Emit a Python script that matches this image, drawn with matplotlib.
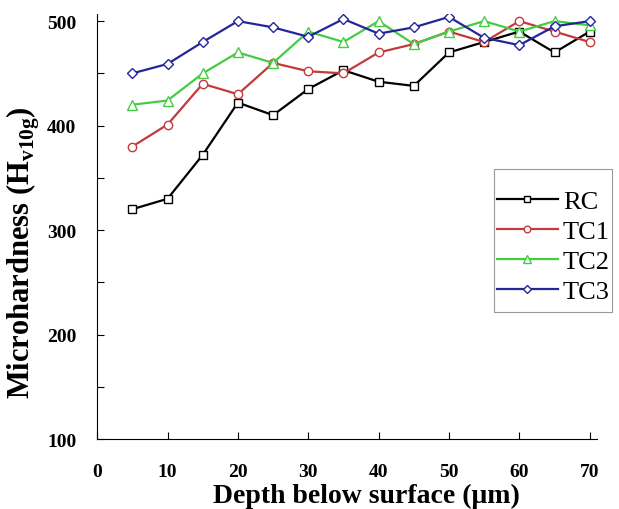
import matplotlib
matplotlib.use("Agg")
import matplotlib.pyplot as plt
from matplotlib.patches import Rectangle
from matplotlib.ticker import MultipleLocator

plt.rcParams['font.family'] = ['Liberation Serif', 'DejaVu Serif']
plt.rcParams['mathtext.fontset'] = 'custom'
plt.rcParams['mathtext.rm'] = 'Liberation Serif'
plt.rcParams['mathtext.bf'] = 'Liberation Serif:bold'

depth = [5, 10, 15, 20, 25, 30, 35, 40, 45, 50, 55, 60, 65, 70]
rc = [320, 330, 372, 422, 410, 435, 453, 442, 438, 470, 480, 490, 470, 490]
tc1 = [380, 401, 440, 430, 460, 452, 450, 470, 478, 490, 480, 500, 490, 480]
tc2 = [420, 424, 450, 470, 460, 490, 480, 500, 478, 490, 500, 490, 500, 496]
tc3 = [450, 459, 480, 500, 494, 485, 502, 488, 494, 504, 484, 477, 495, 500]

series = [
    ("RC", rc, "black", "s", 5.5),
    ("TC1", tc1, "#c43a3a", "o", 6),
    ("TC2", tc2, "#45cc45", "^", 7),
    ("TC3", tc3, "#25259a", "D", 5),
]

fig = plt.figure(figsize=(6.19, 5.10), dpi=100)
ax = fig.add_axes([0.157, 0.137, 0.807, 0.834])

for name, vals, col, mk, ms in series:
    ax.plot(depth, vals, color=col, lw=1.6, marker=mk, ms=ms,
            mfc="white", mec=col, mew=1.0, label=name)

ax.set_xlim(0, 71)
ax.set_ylim(100, 507)
ax.xaxis.set_major_locator(MultipleLocator(10))
ax.yaxis.set_major_locator(MultipleLocator(100))
ax.yaxis.set_minor_locator(MultipleLocator(50))
ax.tick_params(direction="in", length=5, width=0.8, labelsize=14)
ax.tick_params(which="minor", direction="in", length=5, width=0.8)
ax.tick_params(axis="x", pad=17)
ax.tick_params(axis="y", pad=15)
for lab in ax.get_xticklabels() + ax.get_yticklabels():
    lab.set_fontweight("bold")
ax.spines["top"].set_visible(False)
ax.spines["right"].set_visible(False)

ax.set_xlabel("Depth below surface (μm)", fontsize=20, fontweight="bold")
ax.xaxis.set_label_coords(0.54, -0.102)
ax.set_ylabel(r"Microhardness (H$_\mathbf{v10g}$)", fontsize=22, fontweight="bold")
ax.yaxis.set_label_coords(-0.11, 0.44)

# legend without frame, box drawn separately
leg = ax.legend(loc="upper left", bbox_to_anchor=(497 / 619, 1 - 191 / 510),
                bbox_transform=fig.transFigure, fontsize=19, frameon=False,
                handlelength=2.3, handletextpad=0.2, labelspacing=0.24,
                borderpad=0, borderaxespad=0, markerscale=0.8)
fig.patches.append(Rectangle((494 / 619, 1 - 313 / 510), 118 / 619, 143 / 510,
                             transform=fig.transFigure, fill=False,
                             edgecolor="#999999", lw=0.8))

fig.savefig("out.png", dpi=100)
